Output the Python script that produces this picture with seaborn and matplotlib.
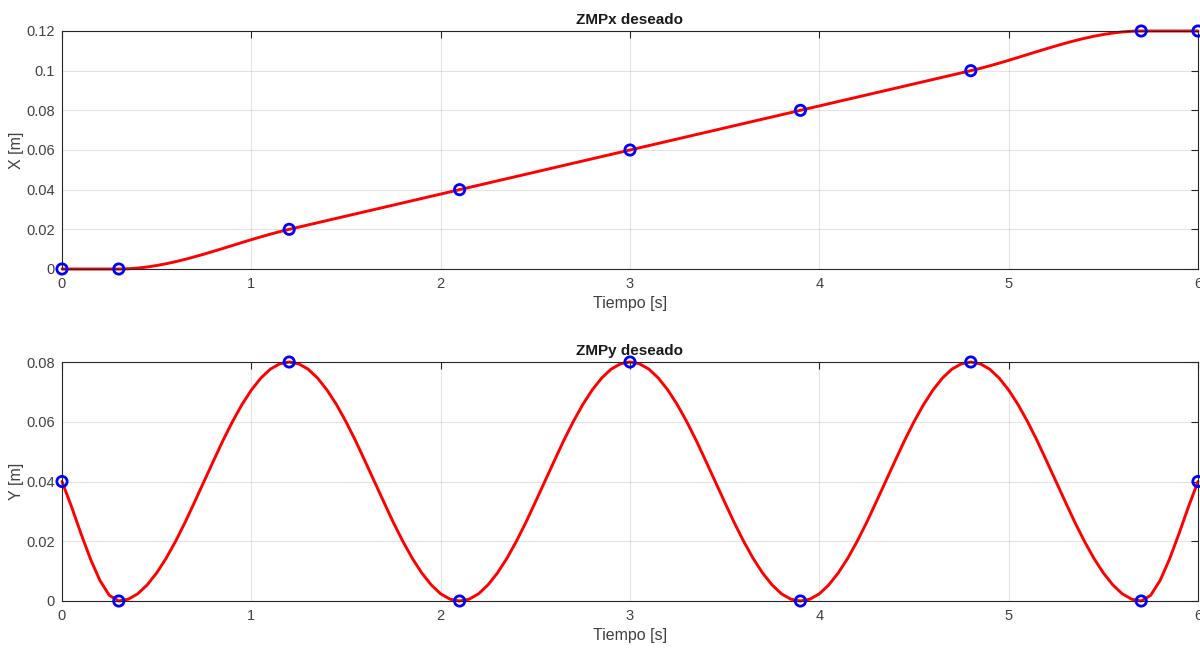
import numpy as np
import matplotlib
matplotlib.use("Agg")
import matplotlib.pyplot as plt
import seaborn as sns
from matplotlib.ticker import FuncFormatter

# waypoints (blue circles)
t_pts = [0, 0.3, 1.2, 2.1, 3.0, 3.9, 4.8, 5.7, 6.0]
zmpx_pts = [0, 0, 0.02, 0.04, 0.06, 0.08, 0.10, 0.12, 0.12]
zmpy_pts = [0.04, 0, 0.08, 0, 0.08, 0, 0.08, 0, 0.04]

# desired ZMPx trajectory (red line)
# straight between 1.2 s and 4.8 s, so only the bends are sampled
zmpx_t = [0, 0.3, 0.35, 0.4, 0.45, 0.5, 0.55, 0.6, 0.65, 0.7, 0.75, 0.8,
          0.85, 0.9, 0.95, 1.0, 1.05, 1.1, 1.15, 1.2,
          4.8, 4.85, 4.9, 4.95, 5.0, 5.05, 5.1, 5.15, 5.2, 5.25, 5.3,
          5.35, 5.4, 5.45, 5.5, 5.55, 5.6, 5.65, 5.7, 6.0]
zmpx_curve = [0, 0, 0.00012, 0.00047, 0.00102, 0.00176, 0.00266, 0.0037,
              0.00487, 0.00615, 0.0075, 0.00892, 0.01037, 0.01185, 0.01333,
              0.01479, 0.0162, 0.01756, 0.01883, 0.02,
              0.10, 0.10117, 0.10244, 0.1038, 0.10521, 0.10667, 0.10815,
              0.10963, 0.11108, 0.1125, 0.11385, 0.11513, 0.1163, 0.11734,
              0.11824, 0.11898, 0.11953, 0.11988, 0.12, 0.12]

# desired ZMPy trajectory (red line), every 0.05 s
zmpy_t = np.linspace(0, 6, 121)
zmpy_curve = [
    0.04, 0.0316, 0.0226, 0.0141, 0.0069, 0.0019, 0,
    # 0.3 -> 1.2
    0.0006, 0.0024, 0.0054, 0.0094, 0.0143, 0.0200, 0.0263, 0.0331, 0.0400,
    0.0469, 0.0537, 0.0600, 0.0657, 0.0706, 0.0746, 0.0776, 0.0794, 0.08,
    # 1.2 -> 2.1
    0.0794, 0.0776, 0.0746, 0.0706, 0.0657, 0.0600, 0.0537, 0.0469, 0.0400,
    0.0331, 0.0263, 0.0200, 0.0143, 0.0094, 0.0054, 0.0024, 0.0006, 0,
    # 2.1 -> 3.0
    0.0006, 0.0024, 0.0054, 0.0094, 0.0143, 0.0200, 0.0263, 0.0331, 0.0400,
    0.0469, 0.0537, 0.0600, 0.0657, 0.0706, 0.0746, 0.0776, 0.0794, 0.08,
    # 3.0 -> 3.9
    0.0794, 0.0776, 0.0746, 0.0706, 0.0657, 0.0600, 0.0537, 0.0469, 0.0400,
    0.0331, 0.0263, 0.0200, 0.0143, 0.0094, 0.0054, 0.0024, 0.0006, 0,
    # 3.9 -> 4.8
    0.0006, 0.0024, 0.0054, 0.0094, 0.0143, 0.0200, 0.0263, 0.0331, 0.0400,
    0.0469, 0.0537, 0.0600, 0.0657, 0.0706, 0.0746, 0.0776, 0.0794, 0.08,
    # 4.8 -> 5.7
    0.0794, 0.0776, 0.0746, 0.0706, 0.0657, 0.0600, 0.0537, 0.0469, 0.0400,
    0.0331, 0.0263, 0.0200, 0.0143, 0.0094, 0.0054, 0.0024, 0.0006, 0,
    # 5.7 -> 6.0
    0.0019, 0.0069, 0.0141, 0.0226, 0.0316, 0.04,
]

x_ticks = [0, 1, 2, 3, 4, 5, 6]
zmpx_ticks = [0, 0.02, 0.04, 0.06, 0.08, 0.10, 0.12]
zmpy_ticks = [0, 0.02, 0.04, 0.06, 0.08]

sns.set_theme(style="white")
plt.rcParams['font.family'] = ['Liberation Sans', 'DejaVu Sans']

dark = '#262626'
text_col = '#404040'
fig = plt.figure(figsize=(12, 6.48), dpi=100)
ax1 = fig.add_axes([62 / 1200, 1 - 269 / 648, 1136 / 1200, 238 / 648])
ax2 = fig.add_axes([62 / 1200, 1 - 601 / 648, 1136 / 1200, 239 / 648])

panels = [
    (ax1, zmpx_t, zmpx_curve, zmpx_pts, zmpx_ticks, 'ZMPx deseado', 'X [m]'),
    (ax2, zmpy_t, zmpy_curve, zmpy_pts, zmpy_ticks, 'ZMPy deseado', 'Y [m]'),
]

for ax, tc, vc, pts, yt, title, ylab in panels:
    sns.lineplot(x=tc, y=vc, ax=ax, color='#ff0000', linewidth=2.1,
                 sort=False, clip_on=False, zorder=2)
    sns.scatterplot(x=t_pts, y=pts, ax=ax, marker='o', s=55,
                    facecolor='none', edgecolor='#0000ff', linewidth=2,
                    clip_on=False, zorder=3)
    ax.set_xlim(0, 6)
    ax.set_ylim(yt[0], yt[-1])
    ax.set_xticks(x_ticks)
    ax.set_yticks(yt)
    ax.yaxis.set_major_formatter(FuncFormatter(lambda v, p: '%g' % round(v, 4)))
    ax.grid(True, color=dark, alpha=0.12, linewidth=0.8)
    ax.tick_params(direction='in', top=True, right=True, length=5, width=0.8,
                   color=dark, labelcolor=text_col, labelsize=10.5, pad=5)
    ax.tick_params(axis='x', pad=6)
    for sp in ax.spines.values():
        sp.set_color(dark)
        sp.set_linewidth(0.8)
        sp.set_visible(True)
    ax.set_title(title, fontsize=11, fontweight='bold', color='#1a1a1a', pad=5)
    ax.set_xlabel('Tiempo [s]', fontsize=11.5, color=text_col, labelpad=3.5)
    ax.set_ylabel(ylab, fontsize=11.5, color=text_col, labelpad=2)

fig.savefig('out.png', dpi=100)
